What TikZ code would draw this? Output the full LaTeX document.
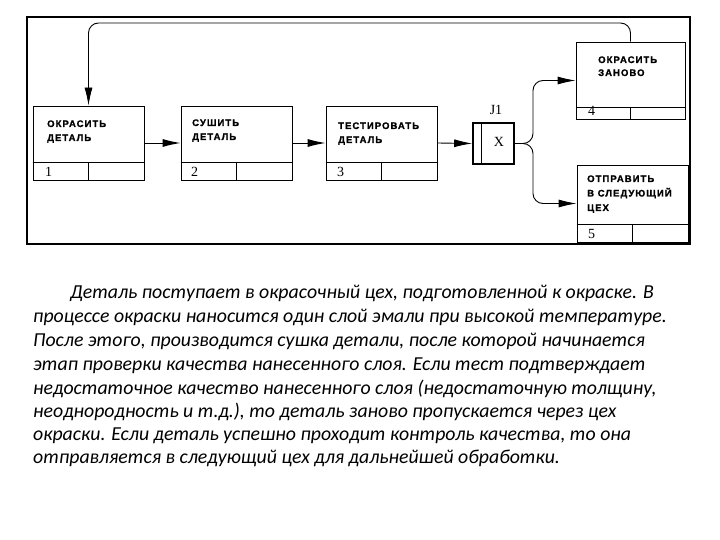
\documentclass[tikz,border=0pt]{standalone}
\usepackage{fontspec}
\setmainfont{Carlito}
\newfontfamily\boxfont{Liberation Sans Bold}[LetterSpace=11, FakeBold=1.3]
\newfontfamily\numfont{Liberation Serif}
\usetikzlibrary{arrows.meta}
\tikzset{
  box/.style={draw, line width=0.9pt, inner sep=0pt},
  lbl/.style={anchor=base west, inner sep=0pt, align=left, font=\boxfont\fontsize{9.5}{14}\selectfont},
  num/.style={anchor=base west, inner sep=0pt, font=\numfont\fontsize{14}{14}\selectfont},
  arr/.style={line width=0.9pt, -{Latex[length=18pt,width=8pt]}},
  para/.style={anchor=base west, inner sep=0pt, font=\itshape\fontsize{19.8}{24}\selectfont},
}
\begin{document}
\begin{tikzpicture}[x=1pt,y=-1pt]
\useasboundingbox (0,0) rectangle (720,540);
% outer frame
\draw[line width=2.2pt] (27,17) rectangle (690,244);
% boxes
\node[box, minimum width=111pt, minimum height=74pt] (b1) at (88.5,143) {};
\node[box, minimum width=111pt, minimum height=74pt] (b2) at (236.5,143) {};
\node[box, minimum width=111pt, minimum height=74pt] (b3) at (381.5,143) {};
\node[box, minimum width=109pt, minimum height=77pt] (b4) at (630.5,80.5) {};
\node[box, minimum width=111pt, minimum height=77pt] (b5) at (632.5,203.5) {};
\node[box, line width=1.6pt, minimum width=41pt, minimum height=41pt] (j1) at (493.5,143.5) {};
\draw[line width=1.2pt] ([xshift=9pt]j1.north west) -- ([xshift=9pt]j1.south west);
% strips
\foreach \b/\h in {b1/18,b2/18,b3/18,b4/12,b5/18}{
  \draw[line width=0.9pt] ([yshift=\h pt]\b.south west) -- ([yshift=\h pt]\b.south east);
  \draw[line width=1.2pt] (\b.south) -- ([yshift=\h pt]\b.south);
}
% labels (anchor at baseline of the last line)
\node[lbl] (t1) at (47,141) {ОКРАСИТЬ\\ДЕТАЛЬ};
\node[lbl] (t2) at (192,140) {СУШИТЬ\\ДЕТАЛЬ};
\node[lbl] (t3) at (338,143) {ТЕСТИРОВАТЬ\\ДЕТАЛЬ};
\node[lbl, font=\boxfont\fontsize{9.5}{13}\selectfont] (t4) at (598,76) {ОКРАСИТЬ\\ЗАНОВО};
\node[lbl, font=\boxfont\fontsize{9.5}{14.5}\selectfont] (t5) at (587,211) {ОТПРАВИТЬ\\В СЛЕДУЮЩИЙ\\ЦЕХ};
% numbers
\node[num] (n1) at (45,177) {1};
\node[num] (n2) at (191,177) {2};
\node[num] (n3) at (337,177) {3};
\node[num] (n4) at (588,116) {4};
\node[num] (n5) at (588,239) {5};
\node[num, anchor=base] (jl) at (496,115) {J1};
\node[num, anchor=base] (jx) at (499,147) {X};
% connectors
\coordinate (fork) at (533,143.5);
\coordinate (top) at (0,23);
\draw[arr] (b1.east) -- (b2.west);
\draw[arr] (b2.east) -- (b3.west);
\draw[arr] (b3.east) -- (j1.west);
\draw[arr, rounded corners=10pt] (j1.east) -- (fork) -- (fork |- b4.west) -- (b4.west);
\draw[arr, rounded corners=10pt] (j1.east) -- (fork) -- (fork |- b5.west) -- (b5.west);
\draw[arr, rounded corners=10pt] (b4.north) -- (b4.north |- top) -- (b1.north |- top) -- (b1.north);
% paragraph
\node[para] (p1) at (70,298) {Деталь поступает в окрасочный цех, подготовленной к окраске. В};
\node[para] (p2) at (33,322) {процессе окраски наносится один слой эмали при высокой температуре.};
\node[para] (p3) at (33,346) {После этого, производится сушка детали, после которой начинается};
\node[para] (p4) at (33,370) {этап проверки качества нанесенного слоя. Если тест подтверждает};
\node[para] (p5) at (33,394) {недостаточное качество нанесенного слоя (недостаточную толщину,};
\node[para] (p6) at (33,417) {неоднородность и т.д.), то деталь заново пропускается через цех};
\node[para] (p7) at (33,440) {окраски. Если деталь успешно проходит контроль качества, то она};
\node[para] (p8) at (33,463) {отправляется в следующий цех для дальнейшей обработки.};
\end{tikzpicture}
\end{document}
